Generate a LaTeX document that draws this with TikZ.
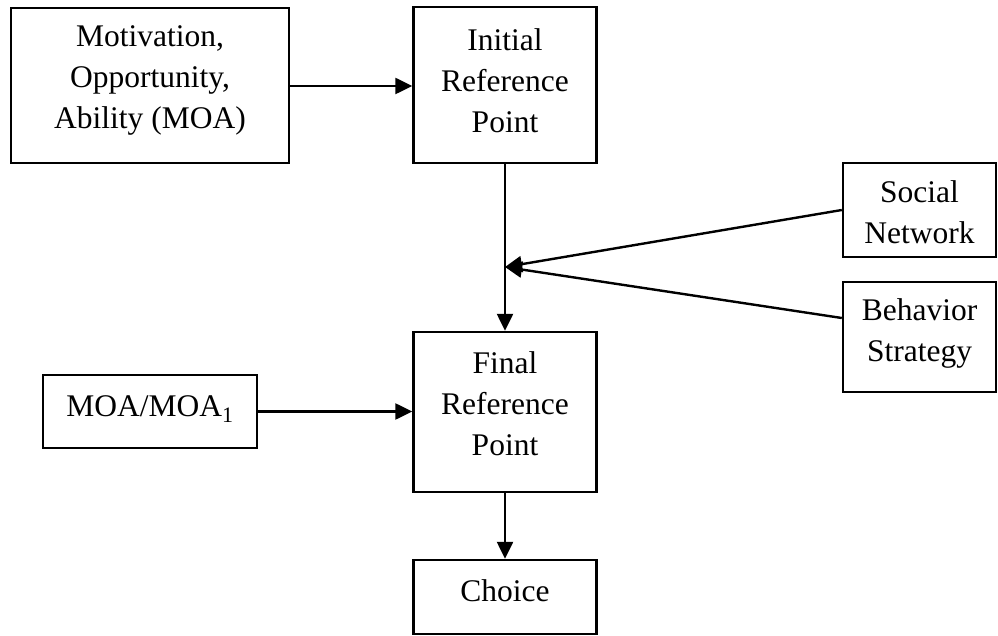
\documentclass[tikz,border=0pt]{standalone}
\usepackage{fontspec}
\setmainfont{Liberation Serif}
\usetikzlibrary{arrows.meta}
\begin{document}
\begin{tikzpicture}[x=1pt,y=-1pt,
  box/.style={draw, line width=2.4pt, inner sep=0pt},
  txt/.style={align=center, inner sep=0pt, font=\fontsize{31.5}{41}\selectfont},
  conn/.style={line width=2.4pt, -{Triangle[length=17pt,width=16pt]}}]
\useasboundingbox (0,0) rectangle (998,636);
\node[box, minimum width=278pt, minimum height=155pt] (moa) at (150,85.5) {};
\node[txt] (moat) at (150,80) {Motivation,\\Opportunity,\\Ability (MOA)};
\node[box, minimum width=183pt, minimum height=156pt] (init) at (505,85) {};
\node[txt] (initt) at (505,81) {Initial\\Reference\\Point};
\node[box, minimum width=183pt, minimum height=160pt] (final) at (505,412) {};
\node[txt] (finalt) at (505,404) {Final\\Reference\\Point};
\node[box, minimum width=183pt, minimum height=74pt] (choice) at (505,597) {};
\node[txt] (choicet) at (505,591) {Choice};
\node[box, minimum width=214pt, minimum height=73pt] (moa1) at (150,411.5) {};
\node[txt] (moa1t) at (150,409) {MOA/MOA\textsubscript{1}};
\node[box, minimum width=153pt, minimum height=94pt] (social) at (919.5,210) {};
\node[txt] (socialt) at (919.5,212) {Social\\Network};
\node[box, minimum width=153pt, minimum height=110pt] (behav) at (919.5,337) {};
\node[txt] (behavt) at (919.5,333) {Behavior\\Strategy};
\coordinate (meet) at (505,267);
\draw[conn] (moa.east |- 0,86) -- (init.west |- 0,86);
\draw[conn] (init.south) -- (final.north);
\draw[conn] (moa1.east) -- (final.west |- moa1.east);
\draw[conn] (final.south) -- (choice.north);
\draw[conn] (social.west) -- (meet);
\draw[conn] (behav.west |- 0,318) -- (meet);
\end{tikzpicture}
\end{document}
